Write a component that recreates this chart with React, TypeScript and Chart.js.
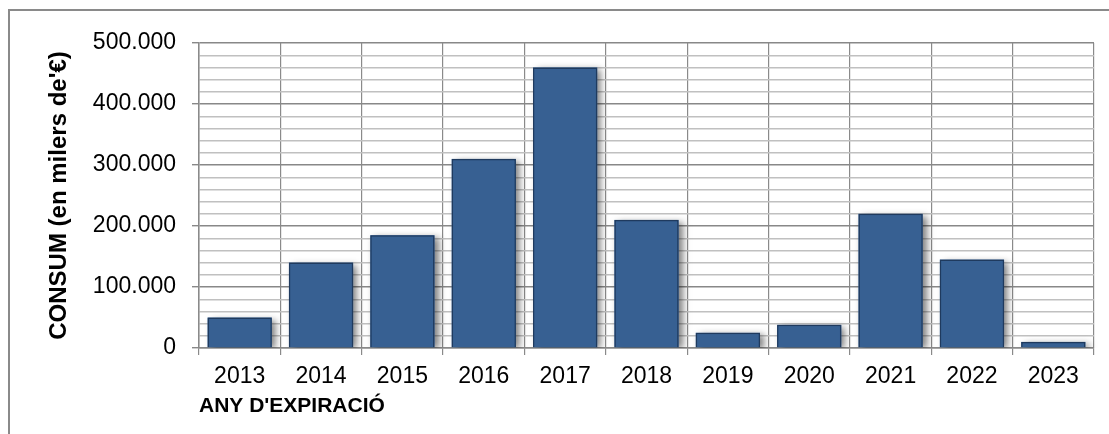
import React, { useEffect, useRef } from 'react';
import { Chart, registerables } from 'chart.js';

Chart.register(...registerables);

const years = ['2013', '2014', '2015', '2016', '2017', '2018', '2019', '2020', '2021', '2022', '2023'];
const consum = [50000, 140000, 185000, 310000, 460000, 210000, 25000, 38000, 220000, 145000, 10000];
const yMin = 0;
const yMax = 500000;
const yMinorStep = 20000;
const yMajorStep = 100000;
const xTitle = "ANY D'EXPIRACIÓ";
const yTitle = "CONSUM (en milers de'€)";

const fmt = (v: number) => String(Math.round(v)).replace(/\B(?=(\d{3})+(?!\d))/g, '.');

const shadowPlugin = {
  id: 'barShadow',
  beforeDatasetsDraw(chart: any) {
    const ctx = chart.ctx;
    const area = chart.chartArea;
    ctx.save();
    ctx.beginPath();
    ctx.rect(area.left, area.top, area.right - area.left + 20, area.bottom - area.top);
    ctx.clip();
    chart.getDatasetMeta(0).data.forEach((el: any) => {
      const { x, y, base, width } = el.getProps(['x', 'y', 'base', 'width'], true);
      ctx.save();
      ctx.shadowColor = 'rgba(0,0,0,0.5)';
      ctx.shadowBlur = 7;
      ctx.shadowOffsetX = 4;
      ctx.shadowOffsetY = 2;
      ctx.fillStyle = '#376092';
      ctx.fillRect(x - width / 2, y, width, base - y);
      ctx.restore();
    });
    ctx.restore();
  },
};

export default function App() {
  const ref = useRef<HTMLCanvasElement>(null);
  useEffect(() => {
    if (!ref.current) return;
    const chart = new Chart(ref.current, {
      type: 'bar',
      data: {
        labels: years,
        datasets: [
          {
            data: consum,
            backgroundColor: '#376092',
            borderColor: '#1f3a5e',
            borderWidth: 1.5,
            barPercentage: 0.79,
            categoryPercentage: 1,
          },
        ],
      },
      options: {
        animation: false,
        responsive: false,
        devicePixelRatio: 1,
        layout: { padding: { left: 0, right: 15, top: 43, bottom: 0 } },
        plugins: {
          legend: { display: false },
          tooltip: { enabled: false },
        },
        scales: {
          x: {
            afterFit: (s: any) => {
              s.height = 86;
            },
            grid: {
              offset: true,
              color: '#8a8a8a',
              lineWidth: 1.2,
              tickLength: 7,
              tickColor: '#8a8a8a',
            },
            border: { color: '#8a8a8a', width: 1.5 },
            ticks: {
              color: '#000',
              padding: 8,
              font: { family: "'Liberation Sans', Arial, sans-serif", size: 23 },
              maxRotation: 0,
              autoSkip: false,
            },
            title: {
              display: true,
              text: xTitle,
              align: 'start',
              color: '#000',
              padding: { top: 0, bottom: 15 },
              font: { family: "'Liberation Sans', Arial, sans-serif", size: 21, weight: 'bold' },
            },
          },
          y: {
            min: yMin,
            max: yMax,
            afterFit: (s: any) => {
              s.width = 199;
            },
            grid: {
              color: (c: any) => (c.tick && c.tick.value % yMajorStep === 0 ? '#888888' : '#c0c0c0'),
              lineWidth: 1.4,
              tickLength: 7,
              tickColor: (c: any) => (c.tick && c.tick.value % yMajorStep === 0 ? '#888888' : 'rgba(0,0,0,0)'),
            },
            border: { color: '#8a8a8a', width: 1.5 },
            ticks: {
              stepSize: yMinorStep,
              autoSkip: false,
              padding: 16,
              color: '#000',
              font: { family: "'Liberation Sans', Arial, sans-serif", size: 23 },
              callback: (v: any) => (Number(v) % yMajorStep === 0 ? fmt(Number(v)) : ''),
            },
            title: {
              display: true,
              text: yTitle,
              color: '#000',
              padding: { top: 45, bottom: 0 },
              font: { family: "'Liberation Sans', Arial, sans-serif", size: 24, weight: 'bold' },
            },
          },
        },
      },
      plugins: [shadowPlugin],
    });
    return () => chart.destroy();
  }, []);

  return (
    <div style={{ position: 'fixed', left: 0, top: 0, width: 1109, height: 434, background: '#fff', overflow: 'hidden' }}>
      <div
        style={{
          position: 'absolute',
          left: 8,
          top: 9,
          width: 1101,
          height: 425,
          borderLeft: '2px solid #8a8a8a',
          borderTop: '2px solid #8a8a8a',
          boxSizing: 'border-box',
        }}
      />
      <canvas ref={ref} width={1109} height={434} style={{ position: 'absolute', left: 0, top: 0 }} />
    </div>
  );
}
